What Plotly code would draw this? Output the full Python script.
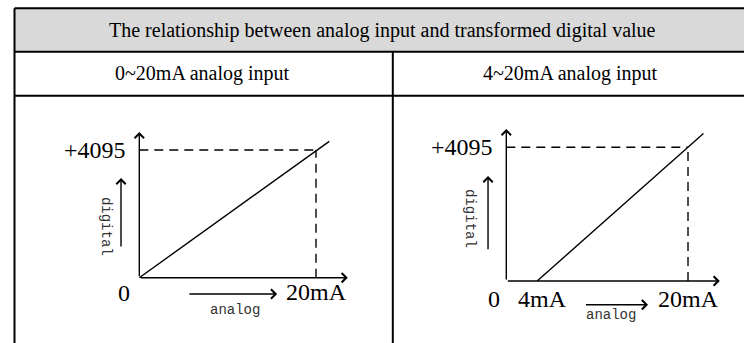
import plotly.graph_objects as go

# ---------------- data ----------------
title_text = "The relationship between analog input and transformed digital value"
col_titles = ["0~20mA analog input", "4~20mA analog input"]
full_scale = 4095
full_scale_label = "+4095"
left_x_ticks = [0, 20]
left_x_labels = ["0", "20mA"]
right_x_ticks = [0, 4, 20]
right_x_labels = ["0", "4mA", "20mA"]
left_line_x = [0, 21.5]
left_line_y = [0, 4370]
right_line_x = [3.4, 21.7]
right_line_y = [0, 4520]
max_current = 20

W, H = 744, 343

def px(x):
    return x / W

def py(y):
    return 1 - y / H

# axis geometry: (pixel of 0 mA, px per mA), (pixel of 0 digital, px per unit)
XR = [-5, 25]
YR = [-1500, 6000]
def xdom(x0, k):
    return [px(x0 + k * XR[0]), px(x0 + k * XR[1])]
def ydom(y0, k):
    return [py(y0 - k * YR[0]), py(y0 - k * YR[1])]

L = dict(x0=139.3, kx=8.835, y0=277.7, ky=127.7 / 4095)
R = dict(x0=506.3, kx=9.085, y0=281.0, ky=133.7 / 4095)

fig = go.Figure()

fig.add_trace(go.Scatter(x=left_line_x, y=left_line_y, mode="lines",
                         line=dict(color="black", width=1.4), xaxis="x", yaxis="y",
                         hoverinfo="skip"))
fig.add_trace(go.Scatter(x=right_line_x, y=right_line_y, mode="lines",
                         line=dict(color="black", width=1.4), xaxis="x2", yaxis="y2",
                         hoverinfo="skip"))

shapes = []
annotations = []

# ---------- table ----------
BL = dict(color="black", width=2)
shapes.append(dict(type="rect", xref="paper", yref="paper", x0=px(14.5), x1=px(760),
                   y0=py(51.7), y1=py(8.3), fillcolor="#d9d9d9", line=dict(width=0), layer="below"))
for yy in [8.3, 51.7, 95.7]:
    shapes.append(dict(type="line", xref="paper", yref="paper", x0=px(14.5), x1=px(760),
                       y0=py(yy), y1=py(yy), line=BL))
shapes.append(dict(type="line", xref="paper", yref="paper", x0=px(14.5), x1=px(14.5),
                   y0=py(8.3), y1=py(360), line=BL))
shapes.append(dict(type="line", xref="paper", yref="paper", x0=px(392.8), x1=px(392.8),
                   y0=py(51.7), y1=py(360), line=BL))

serif = "Liberation Serif, Times New Roman, serif"
mono = "Liberation Mono, Courier New, monospace"

annotations.append(dict(xref="paper", yref="paper", x=px(382), y=py(30.5), text=title_text,
                        showarrow=False, font=dict(family=serif, size=20, color="black"),
                        xanchor="center", yanchor="middle"))
annotations.append(dict(xref="paper", yref="paper", x=px(203), y=py(74), text=col_titles[0],
                        showarrow=False, font=dict(family=serif, size=20, color="black"),
                        xanchor="center", yanchor="middle"))
annotations.append(dict(xref="paper", yref="paper", x=px(570.5), y=py(74), text=col_titles[1],
                        showarrow=False, font=dict(family=serif, size=20, color="black"),
                        xanchor="center", yanchor="middle"))

def arrow(xa, ya, x_tail, y_tail, x_head, y_head):
    annotations.append(dict(xref=xa, yref=ya, axref=xa, ayref=ya,
                            x=x_head, y=y_head, ax=x_tail, ay=y_tail, text="",
                            showarrow=True, arrowhead=4, arrowsize=1.3, arrowwidth=1.4,
                            arrowcolor="black", standoff=0, startstandoff=0))

def label(xa, ya, x, y, text, size=24, family=serif, xanchor="center", color="black", angle=0):
    annotations.append(dict(xref=xa, yref=ya, x=x, y=y, text=text, showarrow=False,
                            font=dict(family=family, size=size, color=color),
                            xanchor=xanchor, yanchor="middle", textangle=angle))

def dashed(xa, ya):
    d = dict(color="black", width=1.4, dash="9px,6px")
    shapes.append(dict(type="line", xref=xa, yref=ya, x0=0, x1=max_current,
                       y0=full_scale, y1=full_scale, line=d))
    shapes.append(dict(type="line", xref=xa, yref=ya, x0=max_current, x1=max_current,
                       y0=0, y1=full_scale, line=d))

# ---------- left panel ----------
dashed("x", "y")
arrow("x", "y", 0, 0, 23.6, 0)
arrow("x", "y", 0, 0, 0, 4672)
arrow("x", "y", 5.5, -523, 15.6, -523)
arrow("x", "y", -2.07, 952, -2.07, 3197)
label("x", "y", -1.28, full_scale, full_scale_label, xanchor="right")
label("x", "y", -1.73, -480, left_x_labels[0])
label("x", "y", left_x_ticks[1], -470, left_x_labels[1])
label("x", "y", 10.8, -1036, "analog", size=14, family=mono, color="#333")
label("x", "y", -3.76, 1658, "digital", size=14, family=mono, color="#333", angle=90)

# ---------- right panel ----------
dashed("x2", "y2")
arrow("x2", "y2", 0, 0, 23.5, 0)
arrow("x2", "y2", 0, 0, 0, 4655)
arrow("x2", "y2", 8.6, -726, 15.6, -726)
arrow("x2", "y2", -2.01, 928, -2.01, 3216)
label("x2", "y2", -1.24, full_scale, full_scale_label, xanchor="right")
label("x2", "y2", -1.3, -545, right_x_labels[0])
label("x2", "y2", right_x_ticks[1], -545, right_x_labels[1])
label("x2", "y2", right_x_ticks[2], -545, right_x_labels[2])
label("x2", "y2", 11.5, -1041, "analog", size=14, family=mono, color="#333")
label("x2", "y2", -4.0, 1899, "digital", size=14, family=mono, color="#333", angle=90)

ax_common = dict(visible=False, fixedrange=True)
fig.update_layout(
    width=W, height=H,
    margin=dict(l=0, r=0, t=0, b=0),
    paper_bgcolor="white", plot_bgcolor="rgba(0,0,0,0)",
    showlegend=False,
    xaxis=dict(domain=xdom(L["x0"], L["kx"]), range=XR, anchor="y", **ax_common),
    yaxis=dict(domain=ydom(L["y0"], L["ky"]), range=YR, anchor="x", **ax_common),
    xaxis2=dict(domain=xdom(R["x0"], R["kx"]), range=XR, anchor="y2", **ax_common),
    yaxis2=dict(domain=ydom(R["y0"], R["ky"]), range=YR, anchor="x2", **ax_common),
    shapes=shapes,
    annotations=annotations,
)

fig.write_html("out.html", config={"displayModeBar": False},
               post_script="document.body.style.margin='0';document.body.style.overflow='hidden';")
